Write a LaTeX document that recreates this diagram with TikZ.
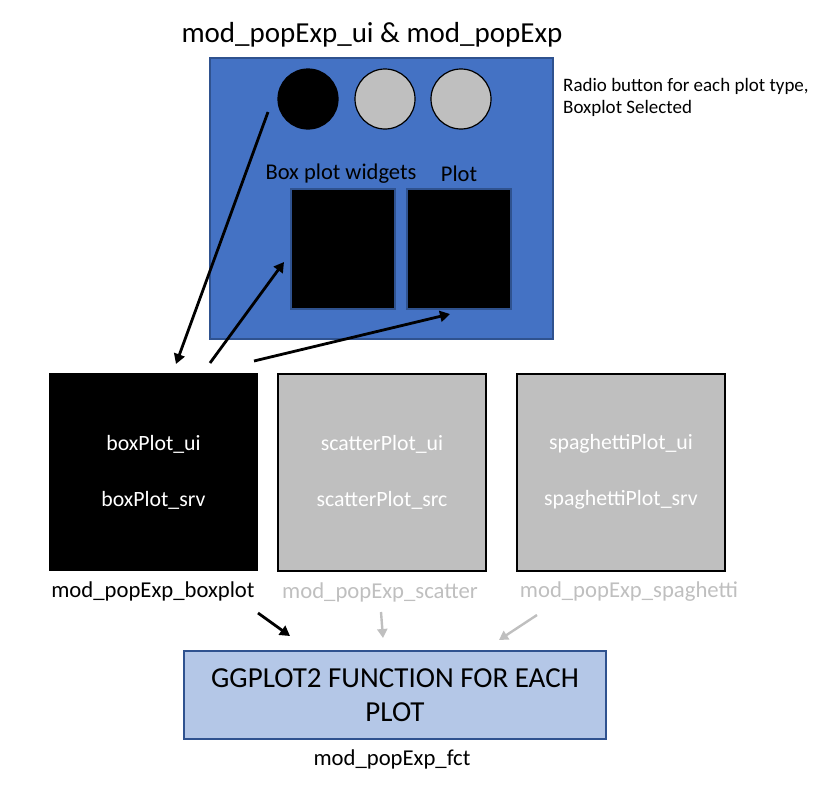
\documentclass[tikz,border=0pt]{standalone}
\usepackage{fontspec}
\setmainfont{Carlito}
\usetikzlibrary{arrows.meta}
\definecolor{uiblue}{HTML}{4472C4}
\definecolor{uiborder}{HTML}{2F528F}
\definecolor{lgray}{HTML}{BFBFBF}
\definecolor{fctblue}{HTML}{B4C7E7}
\begin{document}
\begin{tikzpicture}[x=1pt,y=-1pt,
  arr/.style={line width=2.8pt,-{Triangle[length=10pt,width=11pt]}},
  garr/.style={line width=2.4pt,color=lgray,-{Triangle[length=9pt,width=10pt]}},
  radio/.style={circle,draw=black,line width=1.2pt,minimum size=60pt,inner sep=0pt},
  widget/.style={draw=uiborder,line width=1.2pt,fill=black},
  modbox/.style={draw=black,line width=1.4pt},
  intext/.style={text=white,font=\fontsize{21.8}{26}\selectfont},
  lab/.style={font=\fontsize{22.7}{27}\selectfont}]
\useasboundingbox (0,0) rectangle (836,787);
\node[font=\fontsize{29}{34}\selectfont] (title) at (372,35) {mod\_popExp\_ui \& mod\_popExp};
\draw[fill=uiblue,draw=uiborder,line width=1.2pt] (210,58) rectangle (553,339);
\node[radio,fill=black] (r1) at (308,99) {};
\node[radio,fill=lgray] (r2) at (385,99) {};
\node[radio,fill=lgray] (r3) at (461,99) {};
\node[font=\fontsize{22.5}{27}\selectfont] (wlab) at (341,174) {Box plot widgets};
\node[font=\fontsize{22.5}{27}\selectfont] (plab) at (459,174) {Plot};
\draw[widget] (291,189) rectangle (395,309);
\draw[widget] (407,189) rectangle (511,309);
\node[align=left,anchor=west,inner sep=0pt,font=\fontsize{19}{22}\selectfont] (radiotxt) at (563,97) {Radio button for each plot type,\\Boxplot Selected};
% module boxes
\node[modbox,fill=black,minimum width=208pt,minimum height=197pt,inner sep=0pt] (box) at (153.5,472) {};
\node[modbox,fill=lgray,minimum width=208pt,minimum height=197pt,inner sep=0pt] (scat) at (382,472.5) {};
\node[modbox,fill=lgray,minimum width=208pt,minimum height=197pt,inner sep=0pt] (spag) at (621,472.5) {};
\node[intext] at (153.5,444) {boxPlot\_ui};
\node[intext] at (153.5,500) {boxPlot\_srv};
\node[intext] at (382,444) {scatterPlot\_ui};
\node[intext] at (382,500) {scatterPlot\_src};
\node[intext] at (621,444) {spaghettiPlot\_ui};
\node[intext] at (621,500) {spaghettiPlot\_srv};
\node[lab] (boxlab) at (153,591) {mod\_popExp\_boxplot};
\node[lab,text=lgray] (scatlab) at (380,592) {mod\_popExp\_scatter};
\node[lab,text=lgray] (spaglab) at (629,592) {mod\_popExp\_spaghetti};
% function box
\node[draw=uiborder,line width=1.4pt,fill=fctblue,minimum width=422pt,minimum height=88pt,inner sep=0pt,align=center,font=\fontsize{29}{34}\selectfont] (fct) at (395,695) {GGPLOT2 FUNCTION FOR EACH\\PLOT};
\node[lab] (fctlab) at (392,759) {mod\_popExp\_fct};
% arrow end points
\coordinate (a1s) at (268,112);
\coordinate (a1e) at (176,364);
\coordinate (a2s) at (210,363);
\coordinate (a2e) at (284,262);
\coordinate (a3s) at (254,361);
\coordinate (a3e) at (450,314);
\coordinate (b1s) at (258,613);
\coordinate (b1e) at (290,636);
\coordinate (b2s) at (381,612);
\coordinate (b2e) at (383,638);
\coordinate (b3s) at (537,615);
\coordinate (b3e) at (499,640);
\draw[arr] (a1s) -- (a1e);
\draw[arr] (a2s) -- (a2e);
\draw[arr] (a3s) -- (a3e);
\draw[arr] (b1s) -- (b1e);
\draw[garr] (b2s) -- (b2e);
\draw[garr] (b3s) -- (b3e);
\end{tikzpicture}
\end{document}
